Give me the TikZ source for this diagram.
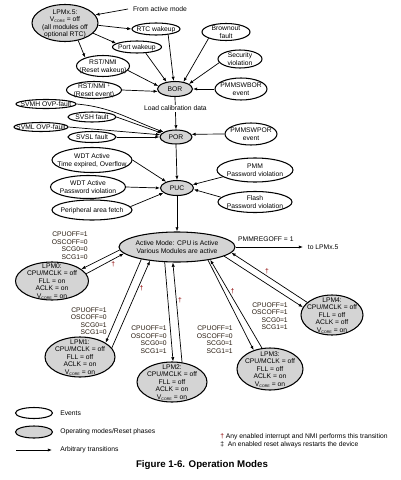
\documentclass[tikz,border=0pt]{standalone}
\usepackage{fontspec}
\setmainfont{Liberation Sans}
\usepackage{tikz}
\usetikzlibrary{shapes.geometric,arrows.meta}
\tikzset{>={Latex[length=3pt,width=2.3pt]}}
\usepackage{xcolor}
\colorlet{modegray}{black!17}
\colorlet{regcol}{black!80!brown}
\colorlet{dagcol}{black!45!red}
\newcommand{\elltext}[1]{\makebox[0pt]{\smash{\raisebox{-1.9pt}{\begin{tabular}{@{}c@{}}#1\end{tabular}}}}}
\newcommand{\vcore}{V\raisebox{-0.35ex}{\fontsize{2.6}{3}\selectfont CORE}}
\tikzset{
  event/.style={ellipse, draw, line width=0.75pt, fill=white, inner sep=0pt},
  mode/.style={ellipse, draw, line width=0.75pt, fill=modegray, inner sep=0pt},
  wh/.style 2 args={minimum width=#1*0.25mm, minimum height=#2*0.25mm},
  regs/.style={align=right, anchor=east, inner sep=0pt, text=regcol},
  dag/.style={text=dagcol, inner sep=0.5pt},
  trans/.style={->, line width=0.5pt},
  legtext/.style={anchor=west, inner sep=0pt},
}

\begin{document}
\begin{tikzpicture}[x=0.25mm, y=-0.25mm, font=\fontsize{4.8}{5.35}\selectfont]
    \useasboundingbox (0,0) rectangle (400,480);

    % reset chain
    \node[mode, wh={66}{37}] (lpmx) at (65,23) {\elltext{LPMx.5:\\\vcore{} = off\\(all modules off\\optional RTC)}};
    \node (fromact) at (160,9) {From active mode};
    \node[event, wh={48}{12}] (rtc) at (156,29) {\elltext{RTC wakeup}};
    \node[event, wh={49}{12}] (port) at (137,47) {\elltext{Port wakeup}};
    \node[event, wh={53}{21}] (rstw) at (103,66) {\elltext{RST/NMI\\(Reset wakeup)}};
    \node[event, wh={55}{17}] (rste) at (94,90) {\elltext{RST/NMI \raisebox{0.5ex}{\fontsize{3}{3}\selectfont\ddag}\\(Reset event)}};
    \node[mode, wh={35}{15}] (bor) at (175,89) {\elltext{BOR}};
    \node[event, wh={48}{17}] (brown) at (226,32) {\elltext{Brownout\\fault}};
    \node[event, wh={44}{18}] (secv) at (240,59) {\elltext{Security\\violation}};
    \node[event, wh={52}{22}] (swbor) at (241,89) {\elltext{PMMSWBOR\\event}};

    \node[event, wh={60}{9}] (svmh) at (46,104) {\elltext{SVMH OVP-fault}};
    \node[event, wh={48}{10}] (svsh) at (92,117) {\elltext{SVSH fault}};
    \node[event, wh={54}{9}] (svml) at (41,127) {\elltext{SVML OVP-fault}};
    \node[event, wh={48}{11}] (svsl) at (92,137) {\elltext{SVSL fault}};
    \node[mode, wh={32}{14}] (por) at (176,137) {\elltext{POR}};
    \node[event, wh={52}{22}] (swpor) at (251,134) {\elltext{PMMSWPOR\\event}};

    \node[event, wh={80}{25}] (wdtt) at (92,160) {\elltext{WDT Active\\Time expired, Overflow}};
    \node[event, wh={75}{23}] (wdtp) at (88,187) {\elltext{WDT Active\\Password violation}};
    \node[event, wh={80}{20}] (periph) at (92,210) {\elltext{Peripheral area fetch}};
    \node[mode, wh={33}{15}] (puc) at (177,188) {\elltext{PUC}};
    \node[event, wh={76}{24}] (pmmpw) at (255,170) {\elltext{PMM\\Password violation}};
    \node[event, wh={74}{21}] (flpw) at (255,202) {\elltext{Flash\\Password violation}};

    \draw[trans] (fromact.west) -- (lpmx.15);
    \draw[trans] (lpmx.-4) -- (rtc.west);
    \draw[trans] (lpmx.-20) -- (port.170);
    \draw[trans] (lpmx.-53) -- (rstw.155);
    \draw[trans] (rtc.-25) -- (bor.100);
    \draw[trans] (port.-35) -- (bor.140);
    \draw[trans] (rstw.-10) -- (bor.170);
    \draw[trans] (rste.east) -- (bor.188);
    \draw[trans] (brown.200) -- (bor.40);
    \draw[trans] (secv.190) -- (bor.20);
    \draw[trans] (swbor.west) -- (bor.east);
    \draw[trans] (bor.south) -- node[pos=0.35, fill=white, inner sep=1pt] (calib) {Load calibration data} (por.north);

    \draw[trans] (svmh.east) to[out=-5, in=160] (por.158);
    \draw[trans] (svsh.east) -- (por.165);
    \draw[trans] (svml.east) -- (por.172);
    \draw[trans] (svsl.east) -- (por.180);
    \draw[trans] (swpor.west) -- (por.10);
    \draw[trans] (por.south) -- (puc.north);

    \draw[trans] (wdtt.east) -- (puc.150);
    \draw[trans] (wdtp.east) -- (puc.west);
    \draw[trans] (periph.5) -- (puc.200);
    \draw[trans] (pmmpw.192) -- (puc.12);
    \draw[trans] (flpw.172) -- (puc.-5);

    % operating modes
    \node[mode, wh={116}{30}] (act) at (177,247) {\elltext{Active Mode: CPU is Active\\Various Modules are active}};
    \node[anchor=west] (tolpm) at (303,247) {to LPMx.5};
    \draw[trans] (puc.south) -- (act.north);
    \draw[trans] (act.east) -- node[pos=0.45, above=0.5pt] (regoff) {PMMREGOFF = 1} (tolpm.west);

    \node[mode, wh={73}{38}] (lpm0) at (52,281) {\elltext{LPM0:\\CPU/MCLK = off\\FLL = on\\ACLK = on\\\vcore{} = on}};
    \node[mode, wh={70}{40}] (lpm1) at (80,357) {\elltext{LPM1:\\CPU/MCLK = off\\FLL = off\\ACLK = on\\\vcore{} = on}};
    \node[mode, wh={70}{40}] (lpm2) at (172,382) {\elltext{LPM2:\\CPU/MCLK = off\\FLL = off\\ACLK = on\\\vcore{} = on}};
    \node[mode, wh={66}{42}] (lpm3) at (270,369) {\elltext{LPM3:\\CPU/MCLK = off\\FLL = off\\ACLK = on\\\vcore{} = on}};
    \node[mode, wh={62}{40}] (lpm4) at (332,315) {\elltext{LPM4:\\CPU/MCLK = off\\FLL = off\\ACLK = off\\\vcore{} = on}};

    \node[regs] (reg0) at (88,245.5) {CPUOFF=1\\OSCOFF=0\\SCG0=0\\SCG1=0};
    \node[regs] (reg1) at (107,321) {CPUOFF=1\\OSCOFF=0\\SCG0=1\\SCG1=0};
    \node[regs] (reg2) at (167,339.5) {CPUOFF=1\\OSCOFF=0\\SCG0=0\\SCG1=1};
    \node[regs] (reg3) at (233,339.5) {CPUOFF=1\\OSCOFF=0\\SCG0=1\\SCG1=1};
    \node[regs] (reg4) at (288,316) {CPUOFF=1\\OSCOFF=1\\SCG0=1\\SCG1=1};

    \draw[trans] (act.183) -- (lpm0.22);
    \draw[trans] (lpm0.12) -- node[dag, pos=0.64, below right=0pt] (d0) {\dag} (act.187);
    \draw[trans] (act.199) -- (lpm1.29);
    \draw[trans] (lpm1.16) -- node[dag, pos=0.68, right=0.5pt] (d1) {\dag} (act.207);
    \draw[trans] (act.231) -- (lpm2.87);
    \draw[trans] (lpm2.63) -- node[dag, pos=0.62, right=0.5pt] (d2) {\dag} (act.255);
    \draw[trans] (act.-23) -- (lpm3.131);
    \draw[trans] (lpm3.111) -- node[dag, pos=0.64, right=0.5pt] (d3) {\dag} (act.-21);
    \draw[trans] (act.-11) -- (lpm4.165);
    \draw[trans] (lpm4.153) -- node[dag, pos=0.53, above=0.5pt] (d4) {\dag} (act.-6);

    % legend
    \node[event, wh={37}{11}] (legev) at (34,413) {};
    \node[legtext] (legevt) at (60,413) {Events};
    \node[mode, wh={37}{12}] (legmode) at (34,432) {};
    \node[legtext] (legmodet) at (60,432) {Operating modes/Reset phases};
    \coordinate (legarr) at (16,450);
    \node[legtext] (legarrt) at (60,450) {Arbitrary transitions};
    \draw[trans, shorten >=2mm] (legarr) -- (legarrt.west);

    \node[legtext, align=left] (notes) at (220,441) {\textcolor{dagcol}{\dag}\ Any enabled interrupt and NMI performs this transition\\\ddag\ \ An enabled reset always restarts the device};
    \node[font=\bfseries\fontsize{6.9}{8}\selectfont] (caption) at (202,465) {Figure 1-6. Operation Modes};
\end{tikzpicture}
\end{document}
